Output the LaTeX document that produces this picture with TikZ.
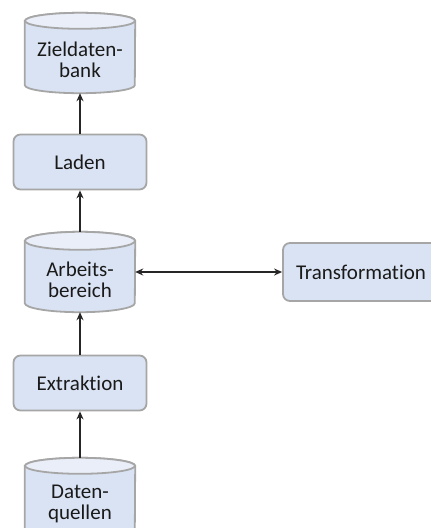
\documentclass[tikz,border=0pt]{standalone}
\usepackage{fontspec}
\setmainfont{Carlito}[Ligatures=NoCommon]
\usetikzlibrary{calc,arrows.meta}
\definecolor{boxfill}{HTML}{DAE3F3}
\definecolor{capfill}{HTML}{E9EEF8}
\definecolor{boxline}{HTML}{A6A6A6}
\definecolor{arrowc}{HTML}{262626}
\definecolor{textc}{HTML}{1A1A1A}
\tikzset{
  labelfont/.style={font=\fontsize{21}{21.5}\selectfont, text=textc},
  procbox/.style={labelfont, draw=boxline, line width=1.8pt, fill=boxfill, rounded corners=7pt,
    minimum width=133pt, minimum height=55pt, align=center, inner sep=0pt},
  dbnode/.style={draw=none, minimum width=110pt, minimum height=80pt, inner sep=0pt},
  dblabel/.style={labelfont, align=center, inner sep=0pt},
  dbline/.style={draw=boxline, line width=1.8pt},
  flow/.style={draw=arrowc, line width=2pt, -{Stealth[length=8pt,width=7pt]}},
  flowboth/.style={draw=arrowc, line width=2pt,
    {Stealth[length=8pt,width=7pt]}-{Stealth[length=8pt,width=7pt]}}
}
% cylinder body and lighter top cap around a named node
\newcommand{\dbdraw}[2]{%
  \path[dbline, fill=boxfill]
    ($(#1.north west)+(0,#2)$) -- ($(#1.south west)+(0,-#2)$)
    arc[start angle=180, end angle=360, x radius=55pt, y radius=#2pt]
    -- ($(#1.north east)+(0,#2)$)
    arc[start angle=0, end angle=180, x radius=55pt, y radius=#2pt] -- cycle;
  \path[dbline, fill=capfill]
    ($(#1.north)+(0,#2)$) ellipse[x radius=55pt, y radius=#2pt];
}
\begin{document}
\begin{tikzpicture}[x=1pt, y=-1pt]
  \useasboundingbox (0,0) rectangle (431,528);
  \clip (0,0) rectangle (431,528);

  % stores (cylinders)
  \node[dbnode] (ziel)  at (80,53)  {};
  \node[dbnode] (arb)   at (80,272) {};
  \node[dbnode] (quell) at (80,498) {};
  \dbdraw{ziel}{8}
  \dbdraw{arb}{9}
  \dbdraw{quell}{8}
  \node[dblabel] at (80,60)  {Zieldaten-\\bank};
  \node[dblabel] at (80,280) {Arbeits-\\bereich};
  \node[dblabel] at (80,504) {Daten-\\quellen};

  % process steps
  \node[procbox] (laden) at (80,162) {Laden};
  \node[procbox] (extr)  at (80,383) {Extraktion};
  \node[procbox, minimum width=156pt, minimum height=58pt] (trans) at (361,272) {Transformation};

  % data flow
  \draw[flow] (quell.north) -- (extr.south);
  \draw[flow] (extr.north) -- (arb.south);
  \draw[flow] (arb.north) -- (laden.south);
  \draw[flow] (laden.north) -- (ziel.south);
  \draw[flowboth] (arb.east) -- (trans.west);
\end{tikzpicture}
\end{document}
